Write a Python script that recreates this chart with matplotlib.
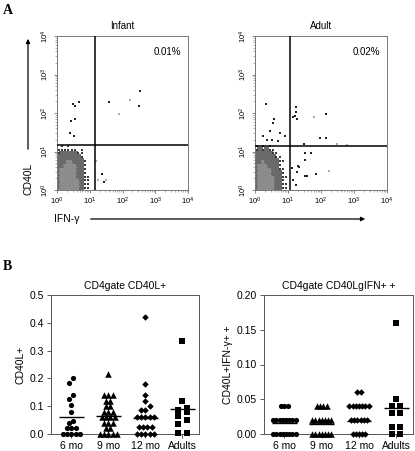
import numpy as np
import matplotlib
matplotlib.use('Agg')
import matplotlib.pyplot as plt
from matplotlib.colors import ListedColormap, BoundaryNorm
from matplotlib.ticker import LogLocator, NullFormatter, FixedLocator
from matplotlib.patches import FancyArrowPatch

plt.rcParams['font.family'] = ['Liberation Sans', 'DejaVu Sans']
plt.rcParams['mathtext.fontset'] = 'custom'
plt.rcParams['mathtext.rm'] = 'Liberation Sans'
plt.rcParams['mathtext.it'] = 'Liberation Sans:italic'

# ---------------- Panel A data ----------------
flow_ticks = [1, 10, 100, 1000, 10000]
flow_ticklabels = ['$10^{0}$', '$10^{1}$', '$10^{2}$', '$10^{3}$', '$10^{4}$']
flow_titles = ['Infant', 'Adult']
flow_pcts = ['0.01%', '0.02%']
infant_gate = [14.6, 14.8]   # IFN-γ, CD40L
adult_gate = [11.4, 14.1]

# events outside main cloud, log10 coordinates; dark: 1 = dark dot, 0 = faint dot
infant_ev_x = [0.48, 0.56, 0.67, 0.44, 0.56, 0.41, 0.51, 1.59, 2.53, 2.49, 2.24, 1.89, 1.37, 1.42, 1.50, 1.25, 1.19]
infant_ev_y = [2.23, 2.18, 2.29, 1.80, 1.84, 1.49, 1.41, 2.29, 2.58, 2.18, 2.33, 1.97, 0.41, 0.20, 0.26, 0.26, 0.75]
infant_ev_dark = [1, 1, 1, 1, 1, 1, 1, 1, 1, 1, 0, 0, 1, 1, 0, 0, 0]

adult_ev_x = [0.32, 0.57, 0.55, 0.44, 0.24, 0.35, 0.53, 0.76, 0.91, 0.69, 1.23, 1.23, 1.20, 1.14, 1.26, 1.79,
              2.14, 1.98, 2.14, 2.47, 2.78, 1.49, 1.52, 1.69, 1.51, 1.29, 1.32, 1.13, 1.26, 1.52, 1.59, 1.86,
              1.16, 1.23, 2.25]
adult_ev_y = [2.23, 1.84, 1.73, 1.52, 1.39, 1.30, 1.30, 1.49, 1.39, 1.26, 2.16, 2.03, 1.92, 1.90, 1.84, 1.90,
              1.97, 1.36, 1.36, 1.19, 1.16, 1.19, 0.97, 0.97, 0.78, 0.62, 0.61, 0.56, 0.46, 0.37, 0.37, 0.41,
              0.26, 0.13, 0.49]
adult_ev_dark = [1, 1, 1, 1, 1, 1, 1, 1, 1, 1, 1, 1, 1, 1, 1, 0,
                 1, 1, 1, 0, 0, 1, 1, 1, 1, 1, 1, 1, 1, 1, 1, 1,
                 1, 1, 0]

# density of the main event cloud on a 0.1-decade grid (rows: CD40L 10^0..10^1.2, cols: IFN-γ 10^0..10^1)
# 0 = empty, 1 = sparse edge events, 2 = medium density, 3 = high density
infant_cloud = [
    [2, 3, 3, 3, 3, 3, 3, 2, 1, 1],
    [2, 3, 3, 3, 3, 3, 3, 2, 1, 1],
    [2, 3, 3, 3, 3, 3, 3, 2, 1, 1],
    [2, 3, 3, 3, 3, 3, 2, 2, 1, 1],
    [2, 3, 3, 3, 3, 3, 2, 2, 1, 0],
    [2, 3, 3, 3, 3, 3, 2, 2, 1, 0],
    [2, 2, 3, 3, 3, 3, 2, 2, 1, 0],
    [2, 2, 2, 3, 3, 2, 2, 2, 1, 0],
    [2, 2, 2, 2, 2, 2, 2, 1, 0, 0],
    [1, 2, 2, 2, 2, 2, 1, 1, 0, 0],
    [1, 1, 1, 1, 1, 1, 0, 1, 0, 0],
    [0, 1, 0, 1, 0, 0, 0, 0, 0, 0],
]
adult_cloud = [
    [2, 3, 3, 3, 3, 3, 2, 2, 1, 1],
    [2, 3, 3, 3, 3, 3, 2, 2, 1, 1],
    [2, 3, 3, 3, 3, 3, 2, 2, 1, 0],
    [2, 3, 3, 3, 3, 3, 2, 2, 1, 1],
    [2, 3, 3, 3, 3, 2, 2, 2, 1, 0],
    [2, 3, 3, 3, 3, 2, 2, 1, 1, 0],
    [2, 3, 3, 3, 2, 2, 2, 1, 0, 0],
    [2, 2, 3, 2, 2, 2, 2, 1, 1, 0],
    [2, 2, 2, 2, 2, 2, 1, 1, 0, 0],
    [2, 2, 2, 2, 2, 1, 1, 0, 0, 0],
    [1, 2, 1, 2, 1, 1, 0, 0, 0, 0],
    [1, 0, 1, 0, 1, 0, 0, 0, 0, 0],
]

# ---------------- Panel B data ----------------
groups = ['6 mo', '9 mo', '12 mo', 'Adults']
b_titles = ['CD4gate CD40L+', 'CD4gate CD40LgIFN+ +']
b_ylabels = ['CD40L+', 'CD40L+IFN-γ+ +']

cd40l_6mo = [0.20, 0.185, 0.14, 0.125, 0.105, 0.08, 0.045, 0.04, 0.02, 0.02, 0.02, 0.0, 0.0, 0.0, 0.0, 0.0]
cd40l_9mo = [0.215, 0.14, 0.14, 0.14, 0.12, 0.12, 0.10, 0.10, 0.08, 0.08, 0.08, 0.06, 0.06, 0.06, 0.06,
             0.04, 0.04, 0.04, 0.02, 0.02, 0.0, 0.0, 0.0, 0.0, 0.0]
cd40l_12mo = [0.42, 0.18, 0.14, 0.12, 0.10, 0.085, 0.085, 0.06, 0.06, 0.06, 0.06, 0.06,
              0.025, 0.025, 0.025, 0.025, 0.0, 0.0, 0.0, 0.0, 0.0]
cd40l_adults = [0.335, 0.12, 0.095, 0.085, 0.08, 0.065, 0.05, 0.035, 0.005, 0.005]
cd40l_means = [0.060, 0.065, 0.056, 0.090]

dbl_6mo = [0.04] * 3 + [0.02] * 8 + [0.0] * 8
dbl_9mo = [0.04] * 4 + [0.02] * 7 + [0.0] * 7
dbl_12mo = [0.06] * 2 + [0.04] * 7 + [0.02] * 6 + [0.0] * 5
dbl_adults = [0.16, 0.05, 0.04, 0.04, 0.03, 0.03, 0.01, 0.01, 0.0, 0.0]
dbl_means = [0.016, 0.014, 0.018, 0.038]

markers = ['o', '^', 'D', 's']
marker_sizes = [14, 22, 11, 14]

# ---------------- figure ----------------
W, H = 415, 451
fig = plt.figure(figsize=(W / 100, H / 100), dpi=100, facecolor='white')


def px_axes(x0, y0, x1, y1):
    return fig.add_axes([x0 / W, 1 - y1 / H, (x1 - x0) / W, (y1 - y0) / H])


def flow_panel(ax, cloud, evx, evy, evdark, gate, title, pct):
    cloud = np.array(cloud, dtype=float)
    nr, nc = cloud.shape
    xe = 10 ** (np.arange(nc + 1) * 0.1)
    ye = 10 ** (np.arange(nr + 1) * 0.1)
    dens = np.where(cloud >= 2, cloud, np.nan)
    cmap = ListedColormap(['#6a6a6a', '#8c8c8c'])
    norm = BoundaryNorm([1.5, 2.5, 3.5], 2)
    ax.pcolormesh(xe, ye, np.ma.masked_invalid(dens), cmap=cmap, norm=norm,
                  shading='flat', edgecolors='face', linewidth=0.3, zorder=1)
    # sparse edge events
    rr, cc = np.where(cloud == 1)
    xc = 10 ** ((cc + 0.5) * 0.1)
    yc = 10 ** ((rr + 0.5) * 0.1)
    ax.scatter(xc, yc, s=3, c='#3a3a3a', marker='s', linewidths=0, zorder=2)
    ex = 10 ** np.array(evx)
    ey = 10 ** np.array(evy)
    dk = np.array(evdark) == 1
    ax.scatter(ex[dk], ey[dk], s=3, c='#222222', marker='s', linewidths=0, zorder=3)
    ax.scatter(ex[~dk], ey[~dk], s=2, c='#aaaaaa', marker='s', linewidths=0, zorder=3)
    ax.axvline(gate[0], color='black', lw=1.1, zorder=4)
    ax.axhline(gate[1], color='black', lw=1.1, zorder=4)
    ax.set_xscale('log')
    ax.set_yscale('log')
    ax.set_xlim(flow_ticks[0], flow_ticks[-1])
    ax.set_ylim(flow_ticks[0], flow_ticks[-1])
    ax.xaxis.set_major_locator(FixedLocator(flow_ticks))
    ax.yaxis.set_major_locator(FixedLocator(flow_ticks))
    ax.set_xticklabels(flow_ticklabels)
    ax.set_yticklabels(flow_ticklabels, rotation=90, va='center')
    ax.xaxis.set_minor_locator(LogLocator(base=10, subs=np.arange(2, 10), numticks=20))
    ax.yaxis.set_minor_locator(LogLocator(base=10, subs=np.arange(2, 10), numticks=20))
    ax.xaxis.set_minor_formatter(NullFormatter())
    ax.yaxis.set_minor_formatter(NullFormatter())
    ax.tick_params(which='major', direction='out', length=2.5, width=0.5, labelsize=5.5, pad=1.5,
                   color='#555555')
    ax.tick_params(which='minor', direction='out', length=1.5, width=0.4, color='#777777')
    for s in ax.spines.values():
        s.set_color('#777777')
        s.set_linewidth(0.7)
    ax.set_title(title, fontsize=7, pad=5)
    ax.text(0.95, 0.93, pct, transform=ax.transAxes, ha='right', va='top', fontsize=7)


axA1 = px_axes(57, 36, 188, 190)
flow_panel(axA1, infant_cloud, infant_ev_x, infant_ev_y, infant_ev_dark, infant_gate,
           flow_titles[0], flow_pcts[0])
axA2 = px_axes(255, 36, 387, 190)
flow_panel(axA2, adult_cloud, adult_ev_x, adult_ev_y, adult_ev_dark, adult_gate,
           flow_titles[1], flow_pcts[1])

# axis arrows for panel A
fig.add_artist(FancyArrowPatch((28 / W, 1 - 152 / H), (28 / W, 1 - 36 / H), transform=fig.transFigure,
                               arrowstyle='-|>', mutation_scale=6, lw=0.9, color='black'))
fig.text(28 / W, 1 - 179 / H, 'CD40L', rotation=90, ha='center', va='center', fontsize=7.5)
fig.add_artist(FancyArrowPatch((88 / W, 1 - 219 / H), (368 / W, 1 - 219 / H), transform=fig.transFigure,
                               arrowstyle='-|>', mutation_scale=6, lw=0.9, color='black'))
fig.text(54 / W, 1 - 219 / H, 'IFN-γ', ha='left', va='center', fontsize=7.5)

fig.text(3 / W, 1 - 10 / H, 'A', family=['Liberation Serif', 'DejaVu Serif'], weight='bold',
         fontsize=10, ha='left', va='center')
fig.text(3 / W, 1 - 267 / H, 'B', family=['Liberation Serif', 'DejaVu Serif'], weight='bold',
         fontsize=10, ha='left', va='center')


# ---------------- Panel B ----------------
def swarm(values, pos, px_per_x, px_per_y, overlap_px, spacing_px):
    """Spread points that overlap vertically into centred horizontal rows."""
    vals = np.asarray(values, dtype=float)
    order = np.argsort(vals, kind='stable')
    xs = np.full(len(vals), float(pos))
    clusters = []
    for i in order:
        if clusters and (vals[i] - vals[clusters[-1][0]]) * px_per_y < overlap_px:
            clusters[-1].append(i)
        else:
            clusters.append([i])
    for cl in clusters:
        n = len(cl)
        for j, i in enumerate(cl):
            xs[i] = pos + (j - (n - 1) / 2) * spacing_px / px_per_x
    return xs


def dot_panel(ax, data, means, ymax, yticks, yfmt, title, ylabel, width_px, height_px, spacings):
    xlim = (0.45, 4.45)
    ppx = width_px / (xlim[1] - xlim[0])
    ppy = height_px / ymax
    for i, (vals, m) in enumerate(zip(data, means)):
        pos = i + 1
        xs = swarm(vals, pos, ppx, ppy, 4.2, spacings[i])
        ax.scatter(xs, vals, marker=markers[i], s=marker_sizes[i], c='black', linewidths=0,
                   clip_on=False, zorder=3)
        ax.hlines(m, pos - 0.33, pos + 0.33, color='black', lw=1.0, zorder=4)
    ax.set_xlim(*xlim)
    ax.set_ylim(0, ymax)
    ax.set_xticks(range(1, len(groups) + 1))
    ax.set_xticklabels(groups)
    ax.set_yticks(yticks)
    ax.set_yticklabels([yfmt.format(v) for v in yticks])
    ax.tick_params(direction='out', length=3, width=0.6, labelsize=7.5, pad=2, color='#444444')
    for s in ax.spines.values():
        s.set_color('#555555')
        s.set_linewidth(0.7)
    ax.set_title(title, fontsize=7.5, pad=4)
    ax.set_ylabel(ylabel, fontsize=7.5, labelpad=3)


axB1 = px_axes(51, 295, 199, 434)
dot_panel(axB1, [cd40l_6mo, cd40l_9mo, cd40l_12mo, cd40l_adults], cd40l_means, 0.5,
          [0.0, 0.1, 0.2, 0.3, 0.4, 0.5], '{:.1f}', b_titles[0], b_ylabels[0], 148, 139,
          [4.2, 4.2, 4.2, 9.0])
axB2 = px_axes(264, 295, 413, 434)
dot_panel(axB2, [dbl_6mo, dbl_9mo, dbl_12mo, dbl_adults], dbl_means, 0.20,
          [0.0, 0.05, 0.10, 0.15, 0.20], '{:.2f}', b_titles[1], b_ylabels[1], 149, 139,
          [3.2, 3.2, 3.2, 8.0])

fig.savefig('out.png', dpi=100, facecolor='white')
